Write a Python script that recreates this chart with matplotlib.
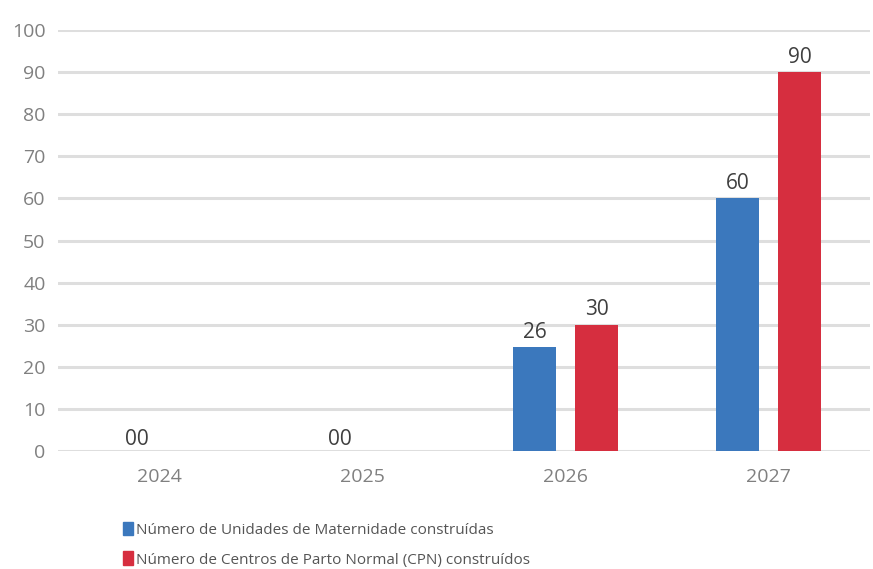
import matplotlib
matplotlib.use("Agg")
import matplotlib.pyplot as plt
from matplotlib.patches import Patch
import numpy as np

years = ["2024", "2025", "2026", "2027"]
maternidade = [0, 0, 24.7, 60]
maternidade_labels = ["00", "00", "26", "60"]
cpn = [0, 0, 30, 90]
cpn_labels = ["", "", "30", "90"]
series_names = ["Número de Unidades de Maternidade construídas",
                "Número de Centros de Parto Normal (CPN) construídos"]
yticks = [0, 10, 20, 30, 40, 50, 60, 70, 80, 90, 100]

blue = "#3b78bd"
red = "#d62e3f"
tick_color = "#808080"
label_color = "#3f3f3f"

plt.rcParams['font.family'] = ['Open Sans', 'DejaVu Sans']

fig = plt.figure(figsize=(8.73, 5.69), dpi=100)
ax = fig.add_axes([58/873, 1-451/569, (870-58)/873, (451-30)/569])

x = np.arange(len(years))
w = 0.21
off = 0.153
ax.bar(x - off, maternidade, width=w, color=blue, zorder=3)
ax.bar(x + off, cpn, width=w, color=red, zorder=3)

for i in range(len(years)):
    if maternidade[i] > 0:
        ax.text(x[i] - off, maternidade[i] + 1.0, maternidade_labels[i], ha="center", va="bottom",
                fontsize=15, color=label_color)
    else:
        ax.text(x[i] - 0.11, maternidade[i] + 0.2, maternidade_labels[i], ha="center", va="bottom",
                fontsize=15, color=label_color)
    if cpn_labels[i]:
        ax.text(x[i] + off, cpn[i] + 1.0, cpn_labels[i], ha="center", va="bottom",
                fontsize=15, color=label_color)

ax.set_xlim(-0.5, 3.5)
ax.set_ylim(0, 100)
ax.set_yticks(yticks)
ax.set_xticks(x)
ax.set_xticklabels(years)
ax.yaxis.grid(True, color="#dedede", linewidth=2.2, zorder=0)
ax.set_axisbelow(True)
for s in ax.spines.values():
    s.set_visible(False)
ax.tick_params(axis="both", length=0, colors=tick_color, labelsize=14)
ax.tick_params(axis="y", pad=9)
ax.tick_params(axis="x", pad=12)

handles = [Patch(color=blue), Patch(color=red)]
fig.legend(handles, series_names, loc="upper left", bbox_to_anchor=(115/873, 1-514/569),
           frameon=False, fontsize=11, handlelength=0.65, handleheight=1.0,
           handletextpad=0.2, labelspacing=0.9, labelcolor="#555555", borderpad=0)

fig.savefig("out.png", dpi=100)
